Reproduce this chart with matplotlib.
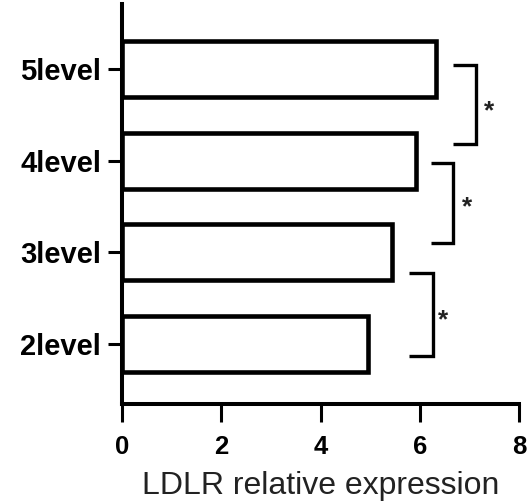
import matplotlib
matplotlib.use("Agg")
import matplotlib.pyplot as plt

categories = ["2level", "3level", "4level", "5level"]
values = [4.96, 5.44, 5.92, 6.33]
xticks = [0, 2, 4, 6, 8]

# brackets: (x_left, x_right, y_top, y_bottom, star_x, star_y)
br_x_left = [6.67, 6.23, 5.79]
br_x_right = [7.13, 6.67, 6.26]
br_y_top = [3.04, 1.97, 0.77]
br_y_bot = [2.185, 1.10, -0.13]
star_x = [7.40, 6.96, 6.47]
star_y = [2.54, 1.49, 0.26]
star_text = ["*", "*", "*"]

plt.rcParams['font.family'] = ['Liberation Sans', 'DejaVu Sans']

fig = plt.figure(figsize=(5.31, 5.01), dpi=100)
ax = fig.add_axes([0.2298, 0.1936, 0.7476, 0.7984])

ypos = list(range(len(categories)))
ax.barh(ypos, values, height=0.61, color='white', edgecolor='black', linewidth=3.3)

for xl, xr, yt, yb in zip(br_x_left, br_x_right, br_y_top, br_y_bot):
    ax.plot([xl, xr, xr, xl], [yt, yt, yb, yb], color='black', linewidth=2.4,
            solid_joinstyle='miter', solid_capstyle='butt')
for sx, sy, st in zip(star_x, star_y, star_text):
    ax.text(sx, sy, st, ha='center', va='center', fontsize=19, fontweight='bold', color='#222222')

ax.set_xlim(0, 8)
ax.set_ylim(-0.655, 3.71)
ax.set_xticks(xticks)
ax.set_xticklabels([str(t) for t in xticks], fontsize=18.5, fontweight='bold')
ax.set_yticks(ypos)
ax.set_yticklabels(categories, fontsize=21, fontweight='bold')
ax.set_xlabel("LDLR relative expression", fontsize=23, labelpad=9, color='#222222')

for s in ['top', 'right']:
    ax.spines[s].set_visible(False)
for s in ['left', 'bottom']:
    ax.spines[s].set_linewidth(2.9)
ax.tick_params(axis='both', width=2.2, color='black')
ax.tick_params(axis='x', length=13, pad=9)
ax.tick_params(axis='y', length=10, pad=5)

fig.savefig("out.png", dpi=100)
